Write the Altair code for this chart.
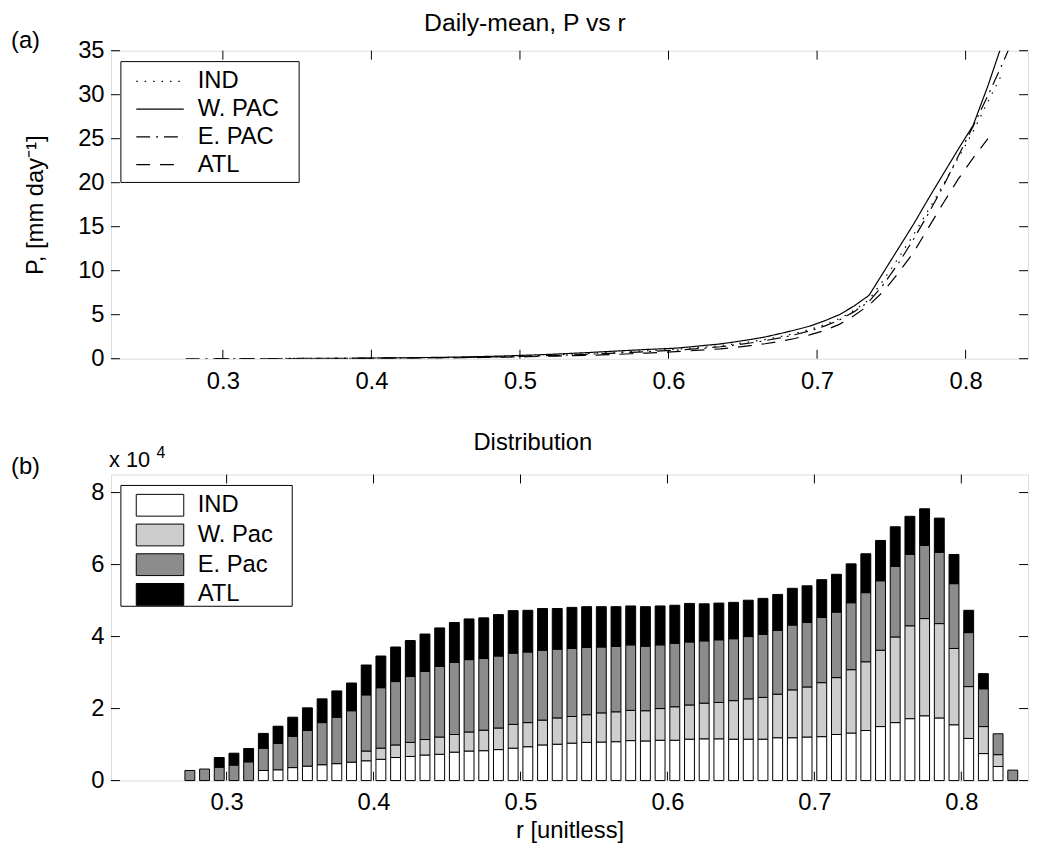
import altair as alt
import pandas as pd

FONT = "Liberation Sans"

# ---------------- data ----------------
R_BINS = [0.275, 0.285, 0.295, 0.305, 0.315, 0.325, 0.335, 0.345, 0.355, 0.365,
          0.375, 0.385, 0.395, 0.405, 0.415, 0.425, 0.435, 0.445, 0.455, 0.465,
          0.475, 0.485, 0.495, 0.505, 0.515, 0.525, 0.535, 0.545, 0.555, 0.565,
          0.575, 0.585, 0.595, 0.605, 0.615, 0.625, 0.635, 0.645, 0.655, 0.665,
          0.675, 0.685, 0.695, 0.705, 0.715, 0.725, 0.735, 0.745, 0.755, 0.765,
          0.775, 0.785, 0.795, 0.805, 0.815, 0.825, 0.835]

LINE_NAMES = ["IND", "W. PAC", "E. PAC", "ATL"]
BAR_NAMES = ["IND", "W. Pac", "E. Pac", "ATL"]

# daily-mean precipitation P [mm/day] per r bin (None = no data)
IND_P = [None, None, None, None, None, .02, .02, .03, .03, .04,
         .05, .05, .06, .07, .08, .10, .11, .13, .15, .18,
         .21, .24, .28, .33, .38, .44, .51, .58, .66, .74,
         .82, .90, .98, 1.07, 1.19, 1.33, 1.48, 1.68, 1.92, 2.18,
         2.50, 2.88, 3.30, 3.85, 4.55, 5.5, 6.7, 9.0, 11.5, 14.1,
         16.9, 19.8, 22.8, 25.8, 29.2, 32.5, None]
WPAC_P = [None, None, None, None, None, None, None, None, None, None,
          None, .05, .06, .08, .09, .11, .13, .15, .18, .21,
          .25, .29, .34, .40, .46, .53, .61, .69, .78, .87,
          .96, 1.05, 1.12, 1.20, 1.35, 1.52, 1.68, 1.92, 2.18, 2.47,
          2.85, 3.25, 3.70, 4.30, 5.00, 6.0, 7.2, 9.9, 12.6, 15.3,
          18.2, 21.0, 23.8, 26.5, 31.0, 36.0, None]
EPAC_P = [0.0, 0.0, .01, .01, .01, .02, .02, .03, .03, .04,
          .04, .05, .05, .06, .07, .08, .09, .11, .13, .15,
          .18, .21, .24, .28, .33, .38, .44, .50, .57, .64,
          .72, .80, .88, .97, 1.08, 1.21, 1.36, 1.55, 1.78, 2.05,
          2.36, 2.72, 3.15, 3.70, 4.40, 5.35, 6.5, 8.5, 10.9, 13.6,
          16.5, 19.6, 23.0, 26.4, 29.9, 33.6, 37.5]
ATL_P = [None, None, .01, .01, .01, .01, .02, .02, .02, .03,
         .03, .04, .04, .05, .06, .07, .08, .09, .10, .12,
         .14, .16, .19, .22, .26, .30, .34, .38, .43, .49,
         .56, .64, .72, .80, .90, 1.00, 1.12, 1.28, 1.48, 1.70,
         1.98, 2.30, 2.70, 3.20, 3.90, 4.9, 6.1, 7.7, 9.8, 12.1,
         14.9, 17.7, 20.4, 22.8, 25.0, None, None]

# number of samples per r bin, in units of 10^4
IND_N = [0, 0, 0, 0, 0, .28, .30, .36, .40, .44,
         .47, .51, .55, .59, .64, .67, .71, .73, .79, .82,
         .83, .86, .90, .94, .99, 1.01, 1.04, 1.06, 1.07, 1.08,
         1.11, 1.10, 1.12, 1.12, 1.15, 1.16, 1.16, 1.15, 1.15, 1.15,
         1.19, 1.19, 1.21, 1.22, 1.28, 1.32, 1.39, 1.50, 1.61, 1.72,
         1.80, 1.74, 1.55, 1.17, .75, .39, 0]
WPAC_N = [0, 0, 0, 0, 0, 0, 0, 0, 0, 0,
          0, 0, .27, .31, .35, .39, .43, .48, .49, .53,
          .57, .60, .66, .67, .69, .73, .74, .77, .81, .83,
          .84, .84, .88, .93, .95, .99, 1.01, 1.07, 1.12, 1.16,
          1.21, 1.33, 1.39, 1.50, 1.58, 1.76, 1.91, 2.12, 2.38, 2.58,
          2.70, 2.62, 2.12, 1.44, .75, .33, 0]
EPAC_N = [.28, .32, .37, .43, .52, .62, .73, .87, .99, 1.17,
          1.29, 1.43, 1.56, 1.68, 1.76, 1.83, 1.89, 1.96, 2.00, 2.01,
          1.99, 2.00, 1.98, 1.96, 1.94, 1.91, 1.89, 1.87, 1.83, 1.82,
          1.82, 1.79, 1.77, 1.76, 1.75, 1.73, 1.74, 1.72, 1.73, 1.75,
          1.77, 1.80, 1.79, 1.81, 1.82, 1.86, 1.92, 1.93, 1.96, 1.98,
          2.03, 1.98, 1.80, 1.50, 1.05, .58, .29]
ATL_N = [0, 0, .27, .33, .37, .41, .48, .53, .63, .66,
         .73, .77, .83, .88, .96, 1.00, 1.04, 1.07, 1.11, 1.13,
         1.13, 1.15, 1.18, 1.16, 1.16, 1.13, 1.14, 1.13, 1.12, 1.10,
         1.08, 1.10, 1.08, 1.06, 1.07, 1.03, 1.02, 1.01, 1.01, 1.00,
         1.00, 1.02, 1.02, 1.05, 1.05, 1.08, 1.08, 1.12, 1.10, 1.06,
         1.02, .95, .81, .62, .42, 0, 0]

X_TICKS = [0.3, 0.4, 0.5, 0.6, 0.7, 0.8]
P_TICKS = [0, 5, 10, 15, 20, 25, 30, 35]
N_TICKS = [0, 2, 4, 6, 8]

LINE_DASHES = [[1.5, 7], [1, 0], [14, 6, 2, 6], [14, 10]]
BAR_COLORS = ["#ffffff", "#cdcdcd", "#8c8c8c", "#000000"]

# ---------------- tables ----------------
line_rows = []
for name, vals in zip(LINE_NAMES, [IND_P, WPAC_P, EPAC_P, ATL_P]):
    for r, v in zip(R_BINS, vals):
        if v is not None:
            line_rows.append({"r": r, "basin": name, "P": v})
df_lines = pd.DataFrame(line_rows)

bar_rows = []
for k, (name, vals) in enumerate(zip(BAR_NAMES, [IND_N, WPAC_N, EPAC_N, ATL_N])):
    for r, v in zip(R_BINS, vals):
        if v > 0:
            bar_rows.append({"r": r, "basin": name, "n": v, "k": k})
df_bars = pd.DataFrame(bar_rows)

# ---------------- layout ----------------
W, H1, H2 = 926, 311, 309
TICK = 9
FS = 24
x_scale = alt.Scale(domain=[0.2247, 0.842], nice=False, zero=False)
p_scale = alt.Scale(domain=[0, 35], nice=False, zero=True)
n_scale = alt.Scale(domain=[0, 8.5], nice=False, zero=True)

AX = dict(grid=False, domain=False, ticks=False,
          labelFont=FONT, labelFontSize=FS, labelColor="black",
          titleFont=FONT, titleFontSize=FS, titleColor="black",
          titleFontWeight="normal")

x_axis_top = alt.Axis(values=X_TICKS, format=".1f", title=None, labelPadding=11, **AX)
x_axis_bot = alt.Axis(values=X_TICKS, format=".1f", title="r [unitless]",
                      labelPadding=10, titlePadding=5, **AX)
p_axis = alt.Axis(values=P_TICKS, title="P, [mm day⁻¹]", labelPadding=7,
                  titlePadding=30, **AX)
n_axis = alt.Axis(values=N_TICKS, title=None, labelPadding=7, **AX)

LEG = dict(title=None, orient="none", legendX=10, legendY=11,
           padding=8, rowPadding=4,
           labelFont=FONT, labelFontSize=FS, labelColor="black",
           symbolSize=484, symbolStrokeColor="black",
           symbolOffset=19.5, labelOffset=26)


def inward_ticks(x_axis, yfield_df, yfield, yscale, y_axis, height):
    xt = alt.Chart(pd.DataFrame({"r": X_TICKS}))
    yt = alt.Chart(yfield_df)
    rule = dict(color="black", strokeWidth=1)
    return [
        xt.mark_rule(**rule).encode(x=alt.X("r:Q", scale=x_scale, axis=x_axis),
                                    y=alt.value(height), y2=alt.value(height - TICK)),
        xt.mark_rule(**rule).encode(x=alt.X("r:Q", scale=x_scale, axis=x_axis),
                                    y=alt.value(0), y2=alt.value(TICK)),
        yt.mark_rule(**rule).encode(y=alt.Y(f"{yfield}:Q", scale=yscale, axis=y_axis),
                                    x=alt.value(0), x2=alt.value(TICK)),
        yt.mark_rule(**rule).encode(y=alt.Y(f"{yfield}:Q", scale=yscale, axis=y_axis),
                                    x=alt.value(W), x2=alt.value(W - TICK)),
    ]


def label(text, x, y, size=FS, align="left", baseline="middle"):
    return alt.Chart(pd.DataFrame({"t": [text]})).mark_text(
        font=FONT, fontSize=size, align=align, baseline=baseline, color="black"
    ).encode(text="t:N", x=alt.value(x), y=alt.value(y))


def legend_box(x1, x2, y1, y2):
    return alt.Chart(pd.DataFrame({"b": [0]})).mark_rect(
        fill="white", stroke="black", strokeWidth=1
    ).encode(x=alt.value(x1), x2=alt.value(x2), y=alt.value(y1), y2=alt.value(y2))


# ---------------- panel (a) ----------------
lines = alt.Chart(df_lines).mark_line(color="black", strokeWidth=1.2, clip=True).encode(
    x=alt.X("r:Q", scale=x_scale, axis=x_axis_top),
    y=alt.Y("P:Q", scale=p_scale, axis=p_axis),
    strokeDash=alt.StrokeDash(
        "basin:N", scale=alt.Scale(domain=LINE_NAMES, range=LINE_DASHES),
        legend=alt.Legend(symbolType="M-2.18,0H2.18", symbolStrokeWidth=1.2,
                          symbolFillColor="transparent", **LEG)),
    detail="basin:N",
)

top = alt.layer(
    lines,
    *inward_ticks(x_axis_top, pd.DataFrame({"P": P_TICKS}), "P", p_scale, p_axis, H1),
    legend_box(10, 190, 11, 133),
    label("(a)", -101, -10),
    label("Daily-mean, P vs r", 418, -20, size=25, align="center", baseline="alphabetic"),
).properties(width=W, height=H1)

# ---------------- panel (b) ----------------
bars = alt.Chart(df_bars).mark_bar(size=10, stroke="black", strokeWidth=1).encode(
    x=alt.X("r:Q", scale=x_scale, axis=x_axis_bot),
    y=alt.Y("n:Q", stack="zero", scale=n_scale, axis=n_axis),
    fill=alt.Fill("basin:N", scale=alt.Scale(domain=BAR_NAMES, range=BAR_COLORS),
                  legend=alt.Legend(symbolType="M-2.18,-1H2.18V1H-2.18Z",
                                    symbolStrokeWidth=1, symbolOpacity=1, **LEG)),
    order=alt.Order("k:Q", sort="ascending"),
)

bottom = alt.layer(
    bars,
    *inward_ticks(x_axis_bot, pd.DataFrame({"n": N_TICKS}), "n", n_scale, n_axis, H2),
    legend_box(10, 183, 11, 133),
    label("(b)", -101, -8),
    label("x 10", -2, -15, size=22),
    label("4", 46, -22, size=16),
    label("Distribution", 426, -25, size=FS, align="center", baseline="alphabetic"),
).properties(width=W, height=H2)

chart = alt.vconcat(top, bottom, spacing=117, bounds="flush").resolve_scale(
    strokeDash="independent", fill="independent"
).resolve_legend(
    strokeDash="independent", fill="independent"
).properties(
    padding={"left": 2, "top": -2, "right": 0, "bottom": 4}
).configure_view(
    stroke="black", strokeWidth=1
).configure(background="white")

chart.save("out.html", embed_options={"renderer": "svg", "actions": False})
